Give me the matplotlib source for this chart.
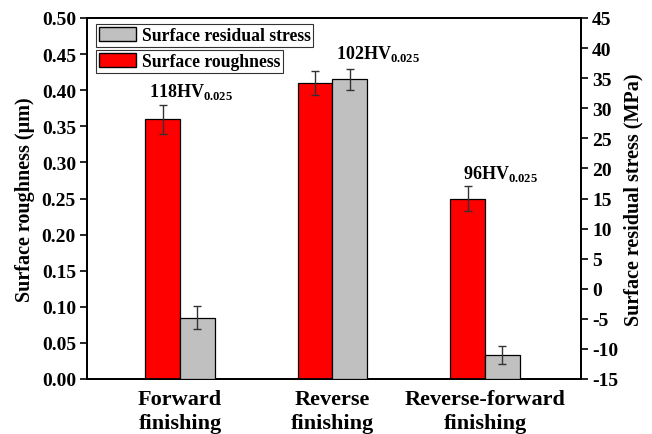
import matplotlib
matplotlib.use("Agg")
import matplotlib.pyplot as plt
import numpy as np
from matplotlib.patches import Patch

plt.rcParams['font.family'] = ['Liberation Serif', 'DejaVu Serif']
plt.rcParams['font.weight'] = 'bold'
plt.rcParams['mathtext.fontset'] = 'custom'
plt.rcParams['mathtext.rm'] = 'Liberation Serif:bold'
plt.rcParams['mathtext.bf'] = 'Liberation Serif:bold'

categories = ["Forward\nfinishing", "Reverse\nfinishing", "Reverse-forward\nfinishing"]
roughness = [0.36, 0.41, 0.25]
roughness_err = [0.02, 0.016, 0.0175]
stress = [-4.8, 34.8, -11.0]
stress_err = [1.9, 1.8, 1.5]
hardness = ["118", "102", "96"]

fig = plt.figure(figsize=(6.52, 4.35), dpi=100)
ax = fig.add_axes([87/652, 1-380/435, 494/652, 361/435])
ax2 = ax.twinx()

x = np.arange(len(categories))
w = 0.227
ax.bar(x - w/2, roughness, w, color='#ff0000', edgecolor='black', linewidth=0.9,
       yerr=roughness_err, error_kw=dict(ecolor='#333333', elinewidth=1.0, capsize=3, capthick=1.0), zorder=3)
ymin2 = -15
ax2.bar(x + w/2, np.array(stress) - ymin2, w, bottom=ymin2, color='#c0c0c0', edgecolor='black', linewidth=0.9,
        yerr=stress_err, error_kw=dict(ecolor='#333333', elinewidth=1.0, capsize=3, capthick=1.0), zorder=3)

ax.set_xlim(-0.61, 2.63)
ax.set_ylim(0, 0.5)
ax2.set_ylim(-15, 45)
yt = np.arange(0, 0.501, 0.05)
ax.set_yticks(yt)
ax.set_yticklabels([f"{v:.2f}" for v in yt], fontsize=14, fontweight='bold')
yt2 = np.arange(-15, 46, 5)
ax2.set_yticks(yt2)
ax2.set_yticklabels([str(v) for v in yt2], fontsize=14, fontweight='bold')
ax.set_xticks(x)
ax.set_xticklabels(categories, fontsize=16, fontweight='bold', linespacing=1.3)
ax.tick_params(axis='x', length=0, pad=7)
ax.tick_params(axis='y', direction='out', length=5, width=1.2, pad=3)
ax2.tick_params(axis='y', direction='out', length=5, width=1.2, pad=3)
for sp in ax.spines.values():
    sp.set_linewidth(1.3)
for sp in ax2.spines.values():
    sp.set_linewidth(1.3)

ax.set_ylabel("Surface roughness (\u03bcm)", fontsize=14.5, fontweight='bold', labelpad=5)
ax2.set_ylabel("Surface residual stress (MPa)", fontsize=14.5, fontweight='bold', labelpad=4)

ann_pos = [(x[0] + 0.07, 0.385), (x[1] + 0.30, 0.438), (x[2] + 0.105, 0.272)]
for (xp, yp), h in zip(ann_pos, hardness):
    ax2.text(xp, -15 + yp * 120, h + r"HV$_{\mathbf{0.025}}$", fontsize=13, fontweight='bold',
             ha='center', va='bottom', zorder=5)

lkw = dict(loc='upper left', fontsize=12.7, frameon=True, fancybox=False, edgecolor='black',
           handlelength=2.1, handleheight=0.9, handletextpad=0.35, borderpad=0.15, borderaxespad=0.0)
leg1 = ax2.legend(handles=[Patch(facecolor='#c0c0c0', edgecolor='black', label='Surface residual stress')],
                  bbox_to_anchor=(9/494, 1 - 6/361), **lkw)
leg1.get_frame().set_linewidth(0.8)
ax2.add_artist(leg1)
leg2 = ax2.legend(handles=[Patch(facecolor='#ff0000', edgecolor='black', label='Surface roughness')],
                  bbox_to_anchor=(9/494, 1 - 32/361), **lkw)
leg2.get_frame().set_linewidth(0.8)
for t in leg1.get_texts() + leg2.get_texts():
    t.set_fontweight('bold')

fig.savefig("out.png", dpi=100)
